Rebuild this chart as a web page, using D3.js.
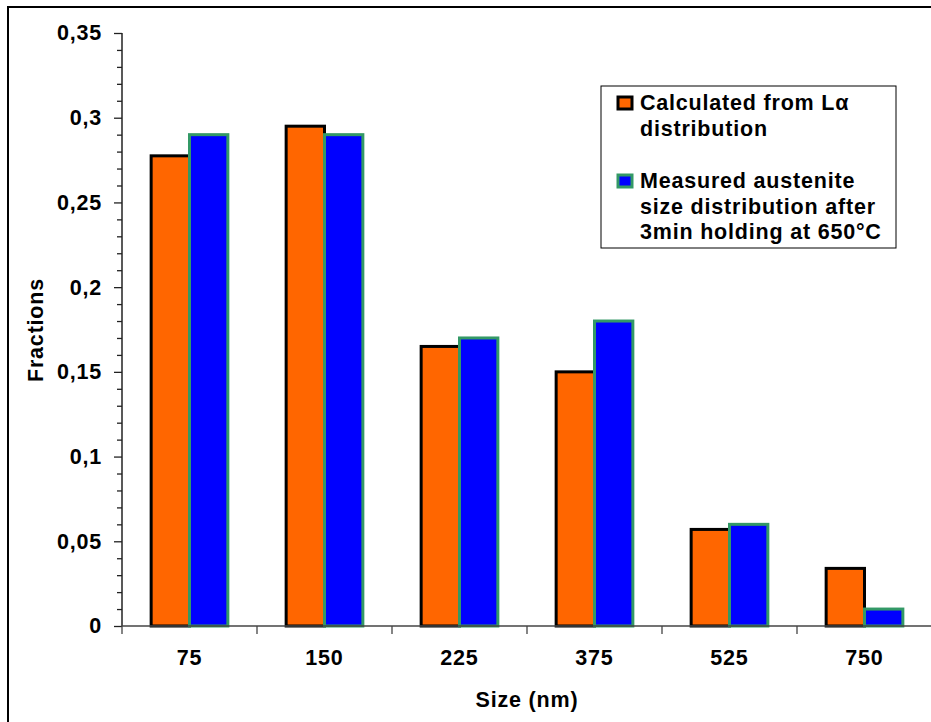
<!DOCTYPE html>
<html>
<head>
<meta charset="utf-8">
<script src="https://cdn.jsdelivr.net/npm/d3@7"></script>
<style>
  html, body { margin: 0; padding: 0; background: #fff; }
  svg { display: block; font-family: "Liberation Sans", Arial, sans-serif; font-weight: bold; }
  svg text { letter-spacing: 0.8px; }
</style>
</head>
<body>
<svg id="chart" width="931" height="722"></svg>
<script>
const categories = ["75", "150", "225", "375", "525", "750"];
const calculated = [0.2775, 0.295, 0.165, 0.15, 0.057, 0.034];
const measured = [0.29, 0.29, 0.17, 0.18, 0.06, 0.01];
const seriesNames = ["Calculated from Lα distribution", "Measured austenite size distribution after 3min holding at 650°C"];
const yTickValues = [0, 0.05, 0.1, 0.15, 0.2, 0.25, 0.3, 0.35];
const yTickLabels = ["0", "0,05", "0,1", "0,15", "0,2", "0,25", "0,3", "0,35"];
const legendLines = [["Calculated from Lα", "distribution"], ["Measured austenite", "size distribution after", "3min holding at 650°C"]];

const svg = d3.select("#chart");
const W = 931, H = 722;
const FS = 21.5;

// chart area border (extends beyond the visible frame on right/bottom)
svg.append("rect").attr("x", 8).attr("y", 7).attr("width", 960).attr("height", 760)
  .attr("fill", "#fff").attr("stroke", "#000").attr("stroke-width", 2);

const plot = { left: 122, right: 932, top: 33, bottom: 626 };

const x = d3.scaleBand().domain(categories).range([plot.left, plot.right]).paddingInner(0).paddingOuter(0);
const step = x.bandwidth();
const xs = d3.scaleBand().domain([0, 1]).range([0, step]).paddingInner(0).paddingOuter(0.76);
const y = d3.scaleLinear().domain([0, 0.35]).range([plot.bottom, plot.top]);

const data = categories.map((c, i) => ({ c, vals: [calculated[i], measured[i]] }));
const fills = ["#FF6600", "#0000FF"];
const strokes = ["#000000", "#339966"];

const groups = svg.append("g").selectAll("g").data(data).join("g")
  .attr("transform", d => `translate(${x(d.c)},0)`);
groups.selectAll("rect").data(d => d.vals.map((v, k) => ({ v, k }))).join("rect")
  .attr("x", d => xs(d.k))
  .attr("width", xs.bandwidth())
  .attr("y", d => y(d.v))
  .attr("height", d => y(0) - y(d.v))
  .attr("fill", d => fills[d.k])
  .attr("stroke", d => strokes[d.k])
  .attr("stroke-width", 3);

// Y axis minor ticks
const minor = d3.range(0, 0.3501, 0.01).filter(v => Math.abs(Math.round(v * 20) - v * 20) > 1e-6);
svg.append("g").attr("transform", `translate(${plot.left},0)`)
  .call(d3.axisLeft(y).tickValues(minor).tickSize(5).tickFormat(""))
  .call(g => g.select(".domain").remove())
  .call(g => g.selectAll("line").attr("stroke", "#222").attr("stroke-width", 1.3));

// Y axis major
const yAxis = svg.append("g").attr("transform", `translate(${plot.left},0)`)
  .call(d3.axisLeft(y).tickValues(yTickValues).tickSize(8).tickPadding(12)
    .tickFormat((d, i) => yTickLabels[i]));
yAxis.select(".domain").attr("stroke", "#222").attr("stroke-width", 1.5).attr("d", `M0,${plot.top}V${plot.bottom}`);
yAxis.selectAll("line").attr("stroke", "#222").attr("stroke-width", 1.3);
yAxis.selectAll("text").attr("font-size", FS).attr("font-family", "Liberation Sans, Arial, sans-serif")
  .attr("font-weight", "bold").attr("fill", "#000");

// X axis
const xAxis = svg.append("g").attr("transform", `translate(0,${plot.bottom})`)
  .call(d3.axisBottom(x).tickSize(0).tickPadding(24));
xAxis.select(".domain").attr("stroke", "#444").attr("stroke-width", 1.5)
  .attr("d", `M${plot.left},0H${plot.right}`);
xAxis.selectAll("text").attr("font-size", FS).attr("font-family", "Liberation Sans, Arial, sans-serif")
  .attr("font-weight", "bold").attr("fill", "#000");
// category boundary ticks
xAxis.append("g").selectAll("line").data(categories).join("line")
  .attr("x1", d => x(d)).attr("x2", d => x(d))
  .attr("y1", 0).attr("y2", 8).attr("stroke", "#444").attr("stroke-width", 1.3);

// Axis titles
svg.append("text").attr("x", 527).attr("y", 707).attr("text-anchor", "middle")
  .attr("font-size", FS).attr("fill", "#000").text("Size (nm)");
svg.append("text").attr("transform", "translate(43,330) rotate(-90)").attr("text-anchor", "middle")
  .attr("font-size", FS).attr("fill", "#000").text("Fractions");

// Legend
const lg = svg.append("g");
lg.append("rect").attr("x", 601).attr("y", 86).attr("width", 295).attr("height", 162)
  .attr("fill", "#fff").attr("stroke", "#000").attr("stroke-width", 1);
const entryY = [110, 188];
legendLines.forEach((lines, k) => {
  lg.append("rect").attr("x", 618).attr("y", entryY[k] - 13).attr("width", 14).attr("height", 12)
    .attr("fill", fills[k]).attr("stroke", strokes[k]).attr("stroke-width", 3);
  lines.forEach((t, j) => {
    lg.append("text").attr("x", 640).attr("y", entryY[k] + j * 25.5)
      .attr("font-size", FS).attr("fill", "#000").text(t);
  });
});
</script>
</body>
</html>
